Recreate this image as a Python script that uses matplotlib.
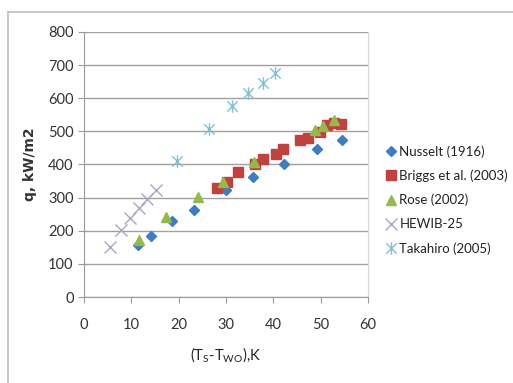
import matplotlib
matplotlib.use("Agg")
import matplotlib.pyplot as plt
from matplotlib.path import Path
from matplotlib.lines import Line2D

# Data
nusselt_x = [11.4, 14.2, 18.6, 23.2, 30.1, 35.8, 42.3, 49.2, 54.5]
nusselt_y = [158, 184, 230, 264, 322, 362, 403, 448, 475]

briggs_x = [28.0, 30.3, 32.6, 36.1, 37.9, 40.6, 42.1, 45.7, 47.4, 49.9, 51.3, 52.8, 54.3]
briggs_y = [330, 347, 378, 403, 418, 432, 446, 475, 480, 498, 518, 525, 522]

rose_x = [11.6, 17.4, 24.0, 29.4, 35.9, 48.8, 50.6, 52.9]
rose_y = [173, 242, 302, 347, 407, 503, 516, 534]

hewib_x = [5.4, 7.7, 9.6, 11.5, 13.3, 15.3]
hewib_y = [151, 201, 237, 270, 297, 322]

taka_x = [19.7, 26.4, 31.2, 34.7, 37.9, 40.4]
taka_y = [410, 507, 576, 617, 647, 675]

labels = ["Nusselt (1916)", "Briggs et al. (2003)", "Rose (2002)", "HEWIB-25", "Takahiro (2005)"]
x_ticks = [0, 10, 20, 30, 40, 50, 60]
y_ticks = [0, 100, 200, 300, 400, 500, 600, 700, 800]

font = "Lato"
fig = plt.figure(figsize=(5.13, 3.83), dpi=100)
ax = fig.add_axes([0.164, 0.2245, 0.553, 0.692])

star = Path([(-1, -1), (1, 1), (-1, 1), (1, -1), (0, -1.2), (0, 1.2)],
            [Path.MOVETO, Path.LINETO, Path.MOVETO, Path.LINETO, Path.MOVETO, Path.LINETO])

ax.plot(nusselt_x, nusselt_y, linestyle="none", marker="D", ms=5.5, color="#3D7DC4", label=labels[0], zorder=3)
ax.plot(briggs_x, briggs_y, linestyle="none", marker="s", ms=7, color="#C0413D", label=labels[1], zorder=3)
ax.plot(rose_x, rose_y, linestyle="none", marker="^", ms=7, color="#93BB4A", label=labels[2], zorder=4)
ax.plot(hewib_x, hewib_y, linestyle="none", marker="x", ms=8, mew=1.0, color="#ABA6C2", label=labels[3], zorder=3)
ax.plot(taka_x, taka_y, linestyle="none", marker=star, ms=9, mew=1.0, color="#7FC0D2",
        markerfacecolor="none", label=labels[4], zorder=3)

ax.set_xlim(0, 60)
ax.set_ylim(0, 800)
ax.set_xticks(x_ticks)
ax.set_yticks(y_ticks)
ax.yaxis.grid(True, color="#A0A0A0", linewidth=1.0)
ax.set_axisbelow(True)
for s in ["left", "bottom"]:
    ax.spines[s].set_color("#9A9A9A")
ax.spines["right"].set_color("#D8D8D8")
ax.spines["top"].set_visible(False)
ax.tick_params(axis="both", colors="#9A9A9A", length=4, labelcolor="#333333", labelsize=10.5)
for lab in ax.get_xticklabels() + ax.get_yticklabels():
    lab.set_family(font)
ax.tick_params(axis="x", pad=11)

ax.set_ylabel("q, kW/m2", fontsize=10, fontweight="bold", color="#333333", labelpad=8)
ax.set_xlabel(r"(T$_{\mathregular{S}}$-T$_{\mathregular{WO}}$),K", fontsize=10.5, color="#222222",
              family=font, labelpad=10)

leg = fig.legend(loc="upper left", bbox_to_anchor=(0.745, 0.635), frameon=False,
                 handlelength=0.6, handletextpad=0.3, labelspacing=0.9,
                 prop={"family": font, "size": 9.5}, borderaxespad=0)
for t in leg.get_texts():
    t.set_color("#222222")

# figure border (top and left visible)
fig.add_artist(Line2D([8/513, 8/513], [0, 1-12/383], color="#BDBDBD", lw=1.2, transform=fig.transFigure))
fig.add_artist(Line2D([8/513, 1], [1-12/383, 1-12/383], color="#BDBDBD", lw=1.2, transform=fig.transFigure))

fig.savefig("out.png", dpi=100)
